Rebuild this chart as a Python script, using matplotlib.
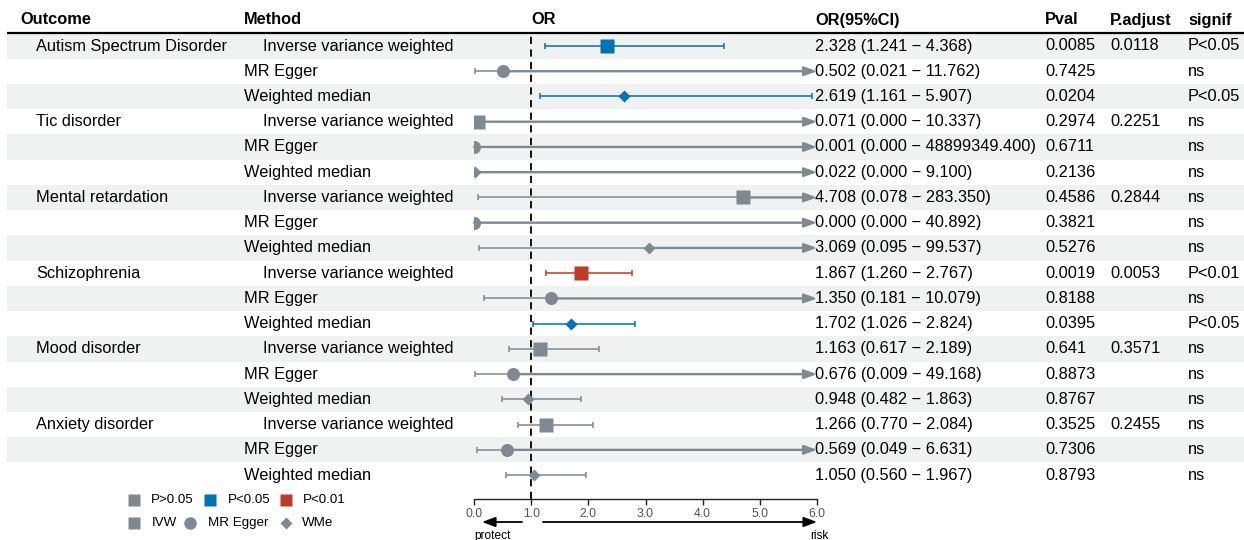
import matplotlib
matplotlib.use("Agg")
import matplotlib.pyplot as plt
from matplotlib.patches import Rectangle
from matplotlib.lines import Line2D

plt.rcParams['font.family'] = ['Liberation Sans', 'DejaVu Sans']

# ---------------- data ----------------
outcomes = ["Autism Spectrum Disorder", "Tic disorder", "Mental retardation",
            "Schizophrenia", "Mood disorder", "Anxiety disorder"]
methods = ["Inverse variance weighted", "MR Egger", "Weighted median"]

or_vals = [2.328, 0.502, 2.619,
           0.071, 0.001, 0.022,
           4.708, 0.000, 3.069,
           1.867, 1.350, 1.702,
           1.163, 0.676, 0.948,
           1.266, 0.569, 1.050]
lower = [1.241, 0.021, 1.161,
         0.000, 0.000, 0.000,
         0.078, 0.000, 0.095,
         1.260, 0.181, 1.026,
         0.617, 0.009, 0.482,
         0.770, 0.049, 0.560]
upper = [4.368, 11.762, 5.907,
         10.337, 48899349.400, 9.100,
         283.350, 40.892, 99.537,
         2.767, 10.079, 2.824,
         2.189, 49.168, 1.863,
         2.084, 6.631, 1.967]
pval = ["0.0085", "0.7425", "0.0204",
        "0.2974", "0.6711", "0.2136",
        "0.4586", "0.3821", "0.5276",
        "0.0019", "0.8188", "0.0395",
        "0.641", "0.8873", "0.8767",
        "0.3525", "0.7306", "0.8793"]
padj = ["0.0118", "", "",
        "0.2251", "", "",
        "0.2844", "", "",
        "0.0053", "", "",
        "0.3571", "", "",
        "0.2455", "", ""]
signif = ["P<0.05", "ns", "P<0.05",
          "ns", "ns", "ns",
          "ns", "ns", "ns",
          "P<0.01", "ns", "P<0.05",
          "ns", "ns", "ns",
          "ns", "ns", "ns"]
xticks = [0, 1, 2, 3, 4, 5, 6]
xticklabels = ["0.0", "1.0", "2.0", "3.0", "4.0", "5.0", "6.0"]

# ---------------- style ----------------
W, H = 1244, 540
GRAY = "#7F8991"
BLUE = "#0072B5"
RED = "#BC3C29"
STRIPE = "#EFF2F1"
col_of = {"ns": GRAY, "P<0.05": BLUE, "P<0.01": RED}
marker_of = {"Inverse variance weighted": "s", "MR Egger": "o", "Weighted median": "D"}
msize_of = {"s": 9.4, "o": 9.4, "D": 6.3}
FS = 11.8

fig = plt.figure(figsize=(W / 100, H / 100), dpi=100)
bg = fig.add_axes([0, 0, 1, 1])
bg.set_xlim(0, W)
bg.set_ylim(H, 0)
bg.axis("off")

y0, dy = 46.0, 25.24
n = len(or_vals)
rows_y = [y0 + i * dy for i in range(n)]

# stripes
for i in range(n):
    if i % 2 == 0:
        bg.add_patch(Rectangle((7, rows_y[i] - dy / 2), W - 7, dy,
                               facecolor=STRIPE, edgecolor="none", zorder=0))

# header
hy = 20
for x, t in [(20, "Outcome"), (244, "Method"), (531, "OR"), (815, "OR(95%CI)"),
             (1045, "Pval"), (1110, "P.adjust"), (1188, "signif")]:
    bg.text(x, hy, t, fontsize=FS, fontweight="bold", ha="left", va="center")
bg.plot([7, W], [32.5, 32.5], color="black", lw=1.6, solid_capstyle="butt")

# table text
for i in range(n):
    y = rows_y[i]
    m = methods[i % 3]
    if i % 3 == 0:
        bg.text(36, y, outcomes[i // 3], fontsize=FS, ha="left", va="center")
    mx = 263 if m == "Inverse variance weighted" else 244
    bg.text(mx, y, m, fontsize=FS, ha="left", va="center")
    ci = f"{or_vals[i]:.3f} ({lower[i]:.3f} \u2212 {upper[i]:.3f})"
    bg.text(815, y, ci, fontsize=FS, ha="left", va="center")
    bg.text(1045, y, pval[i], fontsize=FS, ha="left", va="center")
    if padj[i]:
        bg.text(1110, y, padj[i], fontsize=FS, ha="left", va="center")
    bg.text(1188, y, signif[i], fontsize=FS, ha="left", va="center")

# ---------------- forest axes ----------------
ax_l, ax_r, ax_t, ax_b = 474, 817, 34, 499
ax = fig.add_axes([ax_l / W, (H - ax_b) / H, (ax_r - ax_l) / W, (ax_b - ax_t) / H])
ax.set_facecolor("none")
ax.set_xlim(0, 6)
ax.set_ylim((ax_b - y0) / dy, (ax_t - y0) / dy)
for s in ["top", "right", "left"]:
    ax.spines[s].set_visible(False)
ax.spines["bottom"].set_linewidth(1.0)
ax.spines["bottom"].set_color("#222222")
ax.set_yticks([])
ax.set_xticks(xticks)
ax.set_xticklabels(xticklabels, fontsize=8.8, color="#555555")
ax.tick_params(axis="x", length=4.5, width=1.0, color="#222222", pad=2)

ax.axvline(1, color="black", lw=1.3, ls=(0, (4, 3)), zorder=1)

XMAX = 6
for i in range(n):
    c = col_of[signif[i]]
    mk = marker_of[methods[i % 3]]
    lo, hi, est = lower[i], upper[i], or_vals[i]
    if hi > XMAX:
        ax.plot([lo, est], [i, i], color=c, lw=1.1, zorder=2, solid_capstyle="butt")
        ax.annotate("", xy=(XMAX, i), xytext=(est, i),
                    arrowprops=dict(arrowstyle="-|>,head_length=0.75,head_width=0.27",
                                    color=c, lw=1.7, shrinkA=0, shrinkB=0),
                    zorder=2, annotation_clip=False)
        ax.plot([lo], [i], marker="|", color=c, ms=5, mew=1.1, zorder=2)
    else:
        ax.plot([lo, hi], [i, i], color=c, lw=1.1, zorder=2, solid_capstyle="butt")
        ax.plot([lo, hi], [i, i], ls="none", marker="|", color=c, ms=5, mew=1.1, zorder=2)
    ax.plot([est], [i], marker=mk, color=c, ms=msize_of[mk], mec="none", zorder=3,
            clip_on=True)

# arrows below axis
ay = 522
bg.annotate("", xy=(482, ay), xytext=(522, ay),
            arrowprops=dict(arrowstyle="-|>,head_length=0.8,head_width=0.3",
                            color="black", lw=1.3, shrinkA=0, shrinkB=0))
bg.annotate("", xy=(817, ay), xytext=(543, ay),
            arrowprops=dict(arrowstyle="-|>,head_length=0.8,head_width=0.3",
                            color="black", lw=1.3, shrinkA=0, shrinkB=0))
bg.text(474, 536, "protect", fontsize=8.6, ha="left", va="center")
bg.text(829, 536, "risk", fontsize=8.6, ha="right", va="center")

# ---------------- legend ----------------
LFS = 9.6
leg1 = [(134, "s", GRAY, "P>0.05", 151), (210, "s", BLUE, "P<0.05", 228),
        (286, "s", RED, "P<0.01", 303)]
leg2 = [(134, "s", GRAY, "IVW", 152), (190, "o", GRAY, "MR Egger", 208),
        (286, "D", GRAY, "WMe", 302)]
for ly, items in [(500, leg1), (523, leg2)]:
    for mx, mk, c, t, tx in items:
        ms = {"s": 8.6, "o": 9.0, "D": 6.3}[mk]
        bg.plot([mx], [ly], marker=mk, color=c, ms=ms, mec="none")
        bg.text(tx, ly, t, fontsize=LFS, ha="left", va="center")

fig.savefig("out.png", dpi=100)
